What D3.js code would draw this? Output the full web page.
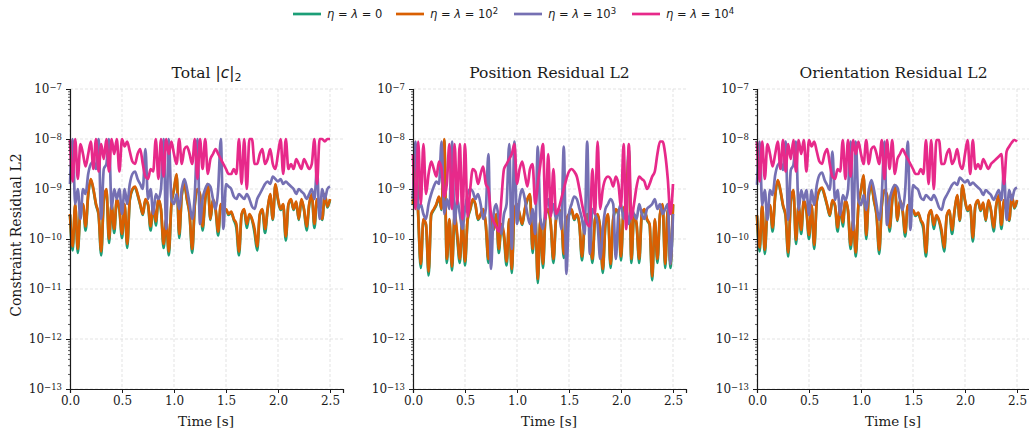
<!DOCTYPE html>
<html>
<head>
<meta charset="utf-8">
<script src="https://cdn.jsdelivr.net/npm/d3@7"></script>
<style>
  body { margin: 0; background: #fff; }
  svg { display: block; font-family: "DejaVu Serif", serif; }
  .math { font-family: "DejaVu Sans", sans-serif; }
</style>
</head>
<body>
<div id="chart"></div>
<script>
// values are log10 of the constraint residual, one sample every dt seconds from t = 0
const dt = 0.025;

const legendExp = ["", "2", "3", "4"];   // "" -> eta = lambda = 0
const colors = ["#1b9e77", "#d95f02", "#7570b3", "#e7298a"];
const panelTitles = ["Total", "Position Residual L2", "Orientation Residual L2"];
const xTicks = [0, 0.5, 1, 1.5, 2, 2.5];
const yTickExps = [-7, -8, -9, -10, -11, -12, -13];

// Total |c|_2
const totalEta0 = [-9.52,-10.23,-9.32,-10.28,-9.42,-9.32,-9.83,-9.12,-8.82,-9.02,
  -9.32,-9.52,-10.33,-9.22,-9.02,-10.08,-9.32,-9.88,-9.22,-9.42,
  -9.98,-9.32,-10.18,-9.22,-9.02,-8.97,-9.12,-9.32,-9.52,-9.22,
  -9.32,-9.83,-9.32,-9.73,-9.22,-9.42,-10.18,-9.62,-10.33,-9.32,
  -9.02,-8.72,-9.98,-9.12,-8.92,-9.22,-9.52,-10.28,-9.32,-9.02,
  -9.12,-9.83,-9.22,-8.92,-9.62,-9.22,-9.42,-9.93,-9.32,-9.42,
  -9.42,-9.52,-9.47,-9.62,-9.78,-10.33,-9.52,-9.42,-9.78,-9.52,
  -9.62,-9.88,-10.23,-9.52,-9.42,-9.88,-9.42,-9.12,-9.62,-8.92,
  -9.22,-9.42,-9.32,-10.03,-9.32,-9.22,-9.42,-9.27,-9.62,-9.22,
  -9.42,-9.83,-9.32,-9.12,-9.78,-9.22,-9.42,-9.62,-9.12,-9.37,
  -9.22];
const totalEta2 = [-9.5,-10.15,-9.3,-10.2,-9.4,-9.3,-9.75,-9.1,-8.8,-9.0,
  -9.3,-9.5,-10.25,-9.2,-9.0,-10.0,-9.3,-9.8,-9.2,-9.4,
  -9.9,-9.3,-10.1,-9.2,-9.0,-8.95,-9.1,-9.3,-9.5,-9.2,
  -9.3,-9.75,-9.3,-9.65,-9.2,-9.4,-10.1,-9.6,-10.25,-9.3,
  -9.0,-8.7,-9.9,-9.1,-8.9,-9.2,-9.5,-10.2,-9.3,-9.0,
  -9.1,-9.75,-9.2,-8.9,-9.6,-9.2,-9.4,-9.85,-9.3,-9.4,
  -9.4,-9.5,-9.45,-9.6,-9.7,-10.25,-9.5,-9.4,-9.7,-9.5,
  -9.6,-9.8,-10.15,-9.5,-9.4,-9.8,-9.4,-9.1,-9.6,-8.9,
  -9.2,-9.4,-9.3,-9.95,-9.3,-9.2,-9.4,-9.25,-9.6,-9.2,
  -9.4,-9.75,-9.3,-9.1,-9.7,-9.2,-9.4,-9.6,-9.1,-9.35,
  -9.2];
const totalEta3 = [-8.9,-8.0,-9.3,-9.0,-9.6,-9.0,-9.1,-8.7,-8.5,-8.45,
  -8.6,-8.0,-9.6,-8.6,-8.5,-8.0,-9.4,-9.0,-9.2,-9.0,
  -9.5,-9.0,-9.3,-8.9,-8.7,-8.65,-8.8,-8.9,-9.0,-8.2,
  -9.2,-9.0,-9.5,-9.1,-9.2,-9.0,-8.0,-9.8,-8.0,-9.2,
  -9.3,-9.1,-9.4,-9.0,-8.8,-9.0,-9.3,-9.6,-9.1,-8.0,
  -9.7,-9.2,-9.0,-8.9,-8.95,-9.2,-9.4,-9.0,-8.0,-9.8,
  -8.9,-8.95,-9.0,-9.15,-9.2,-9.1,-9.15,-9.2,-9.1,-9.2,
  -9.35,-9.4,-9.2,-9.1,-9.0,-8.9,-8.85,-8.9,-8.75,-8.8,
  -8.85,-8.8,-8.9,-8.85,-8.9,-8.95,-9.0,-9.1,-9.0,-9.05,
  -9.1,-9.2,-9.1,-9.0,-9.2,-8.6,-9.6,-9.0,-9.2,-9.0,
  -8.95];
const totalEta4 = [-8.0,-8.85,-8.0,-8.8,-8.1,-8.3,-8.55,-8.3,-8.05,-8.6,
  -8.0,-8.65,-8.1,-8.4,-8.0,-8.65,-8.0,-8.3,-8.0,-8.65,
  -8.0,-8.15,-8.05,-8.25,-8.45,-8.5,-8.3,-8.2,-8.5,-8.75,
  -8.8,-8.6,-8.65,-8.0,-8.8,-8.0,-8.75,-8.0,-8.3,-8.05,
  -8.3,-8.5,-8.0,-8.5,-8.2,-8.15,-8.3,-8.5,-8.0,-8.8,
  -8.0,-8.6,-8.0,-8.7,-8.4,-8.3,-8.2,-8.3,-8.4,-8.5,
  -8.6,-8.7,-8.7,-8.6,-8.7,-8.0,-8.9,-8.0,-9.0,-8.0,
  -8.0,-8.5,-8.5,-8.3,-8.2,-8.5,-8.4,-8.2,-8.5,-8.6,
  -8.3,-8.0,-8.7,-8.0,-8.6,-8.5,-8.6,-8.4,-8.5,-8.6,
  -8.4,-8.5,-8.6,-8.5,-8.0,-8.9,-8.0,-8.0,-8.05,-8.0,
  -8.0];

// Position residual L2
const posEta0 = [-9.32,-8.22,-9.52,-10.58,-9.62,-9.72,-10.73,-9.52,-9.42,-9.32,
  -9.17,-9.42,-8.02,-10.48,-9.62,-10.63,-9.52,-9.98,-10.48,-9.62,
  -10.53,-9.62,-9.42,-9.22,-9.32,-9.62,-9.52,-9.42,-9.72,-10.48,
  -9.62,-9.82,-9.52,-10.28,-9.72,-9.98,-10.53,-9.62,-10.68,-9.42,
  -9.32,-9.52,-9.72,-9.42,-9.22,-9.12,-10.28,-9.52,-10.88,-9.62,
  -10.58,-9.52,-9.42,-9.72,-10.48,-9.62,-9.42,-9.52,-10.38,-9.62,
  -9.52,-9.42,-9.62,-9.52,-9.72,-10.43,-9.72,-9.52,-9.82,-10.48,
  -9.62,-9.52,-9.82,-10.68,-9.72,-9.52,-10.58,-9.62,-9.42,-9.52,
  -10.43,-9.42,-9.32,-8.2,-10.48,-9.52,-9.72,-10.48,-9.52,-9.42,
  -9.62,-9.72,-10.83,-9.62,-10.48,-9.52,-9.32,-10.58,-9.42,-10.58,
  -9.32];
const posEta2 = [-9.3,-8.2,-9.5,-10.5,-9.6,-9.7,-10.65,-9.5,-9.4,-9.3,
  -9.15,-9.4,-8.0,-10.4,-9.6,-10.55,-9.5,-9.9,-10.4,-9.6,
  -10.45,-9.6,-9.4,-9.2,-9.3,-9.6,-9.5,-9.4,-9.7,-10.4,
  -9.6,-9.8,-9.5,-10.2,-9.7,-9.9,-10.45,-9.6,-10.6,-9.4,
  -9.3,-9.5,-9.7,-9.4,-9.2,-9.1,-10.2,-9.5,-10.8,-9.6,
  -10.5,-9.5,-9.4,-9.7,-10.4,-9.6,-9.4,-9.5,-10.3,-9.6,
  -9.5,-9.4,-9.6,-9.5,-9.7,-10.35,-9.7,-9.5,-9.8,-10.4,
  -9.6,-9.5,-9.8,-10.6,-9.7,-9.5,-10.5,-9.6,-9.4,-9.5,
  -10.35,-9.4,-9.3,-8.3,-10.4,-9.5,-9.7,-10.4,-9.5,-9.4,
  -9.6,-9.7,-10.75,-9.6,-10.4,-9.5,-9.3,-10.5,-9.4,-10.5,
  -9.3];
const posEta3 = [-9.2,-8.05,-9.4,-9.3,-9.5,-9.6,-9.3,-9.1,-8.95,-8.85,
  -8.9,-8.05,-9.5,-9.2,-9.4,-8.05,-9.7,-9.2,-9.5,-9.8,
  -9.4,-9.1,-9.0,-9.05,-9.2,-9.1,-9.3,-9.6,-9.4,-8.3,
  -10.6,-9.5,-9.3,-9.6,-9.9,-9.5,-9.3,-8.1,-10.2,-8.05,
  -9.7,-9.2,-9.0,-9.2,-9.5,-9.7,-9.4,-9.9,-8.15,-9.6,
  -9.8,-9.4,-9.2,-9.5,-9.3,-9.6,-9.4,-9.8,-8.15,-10.7,
  -9.5,-9.3,-9.15,-9.2,-9.4,-9.6,-9.9,-8.05,-10.3,-9.4,
  -9.5,-9.7,-10.4,-9.8,-9.4,-9.3,-9.2,-9.3,-10.4,-9.5,
  -9.3,-9.6,-9.4,-9.7,-9.4,-9.5,-9.6,-9.3,-9.5,-9.6,
  -9.4,-9.35,-9.3,-9.2,-9.4,-9.3,-9.5,-9.4,-9.3,-10.5,
  -9.5];
const posEta4 = [-8.3,-9.4,-8.05,-9.3,-8.1,-9.1,-8.7,-8.45,-8.6,-8.75,
  -8.45,-8.6,-9.15,-8.9,-8.1,-9.4,-8.1,-9.3,-8.1,-9.6,
  -8.1,-9.55,-9.0,-8.6,-8.65,-8.9,-8.7,-8.55,-8.9,-9.0,
  -9.5,-9.65,-9.75,-9.85,-9.2,-8.6,-8.5,-8.4,-8.3,-8.1,
  -8.9,-8.6,-8.45,-8.7,-8.95,-8.6,-8.5,-9.3,-8.9,-8.5,
  -8.1,-9.6,-8.3,-9.55,-8.6,-9.5,-9.4,-9.2,-9.0,-8.8,
  -8.65,-8.6,-8.65,-8.75,-9.0,-9.3,-9.55,-9.7,-9.75,-8.6,
  -9.5,-8.05,-9.4,-9.0,-8.8,-8.75,-8.8,-8.95,-8.75,-8.9,
  -9.35,-8.1,-9.8,-8.1,-9.6,-9.3,-8.95,-8.75,-8.8,-8.85,
  -9.0,-8.9,-8.75,-8.65,-8.3,-8.05,-8.05,-8.3,-8.8,-9.5,
  -8.9];

// Orientation residual L2
const oriEta0 = [-9.54,-10.25,-9.34,-10.3,-9.44,-9.34,-9.85,-9.14,-8.84,-9.04,
  -9.34,-9.54,-10.35,-9.24,-9.04,-10.1,-9.34,-9.9,-9.24,-9.44,
  -10.0,-9.34,-10.2,-9.24,-9.04,-8.99,-9.14,-9.34,-9.54,-9.24,
  -9.34,-9.85,-9.34,-9.75,-9.24,-9.44,-10.2,-9.64,-10.35,-9.34,
  -9.04,-8.74,-10.0,-9.14,-8.94,-9.24,-9.54,-10.3,-9.34,-9.04,
  -9.14,-9.85,-9.24,-8.94,-9.64,-9.24,-9.44,-9.95,-9.34,-9.44,
  -9.44,-9.54,-9.49,-9.64,-9.8,-10.35,-9.54,-9.44,-9.8,-9.54,
  -9.64,-9.9,-10.25,-9.54,-9.44,-9.9,-9.44,-9.14,-9.64,-8.94,
  -9.24,-9.44,-9.34,-10.05,-9.34,-9.24,-9.44,-9.29,-9.64,-9.24,
  -9.44,-9.85,-9.34,-9.14,-9.8,-9.24,-9.44,-9.64,-9.14,-9.39,
  -9.24];
const oriEta2 = [-9.52,-10.17,-9.32,-10.22,-9.42,-9.32,-9.77,-9.12,-8.82,-9.02,
  -9.32,-9.52,-10.27,-9.22,-9.02,-10.02,-9.32,-9.82,-9.22,-9.42,
  -9.92,-9.32,-10.12,-9.22,-9.02,-8.97,-9.12,-9.32,-9.52,-9.22,
  -9.32,-9.77,-9.32,-9.67,-9.22,-9.42,-10.12,-9.62,-10.27,-9.32,
  -9.02,-8.72,-9.92,-9.12,-8.92,-9.22,-9.52,-10.22,-9.32,-9.02,
  -9.12,-9.77,-9.22,-8.92,-9.62,-9.22,-9.42,-9.87,-9.32,-9.42,
  -9.42,-9.52,-9.47,-9.62,-9.72,-10.27,-9.52,-9.42,-9.72,-9.52,
  -9.62,-9.82,-10.17,-9.52,-9.42,-9.82,-9.42,-9.12,-9.62,-8.92,
  -9.22,-9.42,-9.32,-9.97,-9.32,-9.22,-9.42,-9.27,-9.62,-9.22,
  -9.42,-9.77,-9.32,-9.12,-9.72,-9.22,-9.42,-9.62,-9.12,-9.37,
  -9.22];
const oriEta3 = [-8.92,-8.05,-9.32,-9.02,-9.62,-9.02,-9.12,-8.72,-8.52,-8.47,
  -8.62,-8.05,-9.62,-8.62,-8.52,-8.05,-9.42,-9.02,-9.22,-9.02,
  -9.52,-9.02,-9.32,-8.92,-8.72,-8.67,-8.82,-8.92,-9.02,-8.25,
  -9.22,-9.02,-9.52,-9.12,-9.22,-9.02,-8.05,-9.82,-8.05,-9.22,
  -9.32,-9.12,-9.42,-9.02,-8.82,-9.02,-9.32,-9.62,-9.12,-8.05,
  -9.72,-9.22,-9.02,-8.92,-8.97,-9.22,-9.42,-9.02,-8.05,-9.82,
  -8.92,-8.97,-9.02,-9.17,-9.22,-9.12,-9.17,-9.22,-9.12,-9.22,
  -9.37,-9.42,-9.22,-9.12,-9.02,-8.92,-8.87,-8.92,-8.77,-8.82,
  -8.87,-8.82,-8.92,-8.87,-8.92,-8.97,-9.02,-9.12,-9.02,-9.07,
  -9.12,-9.22,-9.12,-9.02,-9.22,-8.65,-9.62,-9.02,-9.22,-9.02,
  -8.97];
const oriEta4 = [-8.05,-8.85,-8.05,-8.8,-8.1,-8.3,-8.55,-8.3,-8.05,-8.6,
  -8.02,-8.65,-8.1,-8.4,-8.02,-8.65,-8.02,-8.3,-8.02,-8.65,
  -8.02,-8.15,-8.05,-8.25,-8.45,-8.5,-8.3,-8.2,-8.5,-8.75,
  -8.8,-8.6,-8.65,-8.02,-8.8,-8.02,-8.75,-8.02,-8.3,-8.05,
  -8.3,-8.5,-8.02,-8.5,-8.2,-8.15,-8.3,-8.5,-8.02,-8.8,
  -8.02,-8.6,-8.02,-8.7,-8.4,-8.3,-8.2,-8.3,-8.4,-8.5,
  -8.6,-8.7,-8.7,-8.6,-8.7,-8.02,-8.9,-8.02,-9.0,-8.02,
  -8.02,-8.5,-8.5,-8.3,-8.2,-8.5,-8.4,-8.2,-8.5,-8.6,
  -8.3,-8.02,-8.7,-8.02,-8.6,-8.5,-8.6,-8.4,-8.5,-8.6,
  -8.5,-8.45,-8.4,-8.35,-8.3,-8.9,-8.25,-8.15,-8.07,-8.02,
  -8.05];

const panelSeries = [
  [totalEta0, totalEta2, totalEta3, totalEta4],
  [posEta0, posEta2, posEta3, posEta4],
  [oriEta0, oriEta2, oriEta3, oriEta4]
];

const W = 1029, H = 431;
const panelLeft = [70, 413, 757];
const panelWidth = 273;
const plotTop = 89, plotBottom = 389;
const ink = "#1a1a1a";

const svg = d3.select("#chart").append("svg")
  .attr("width", W)
  .attr("height", H);

const y = d3.scaleLog().domain([1e-13, 1e-7]).range([plotBottom, plotTop]);
const minorTicks = [];
for (let e = -13; e < -7; e++) for (let m = 2; m <= 9; m++) minorTicks.push(m * Math.pow(10, e));

panelSeries.forEach((series, p) => {
  const left = panelLeft[p];
  const x = d3.scaleLinear().domain([0, 2.625]).range([left, left + panelWidth]);
  const g = svg.append("g");

  // grid
  g.selectAll(".vgrid").data(xTicks).join("line")
    .attr("x1", d => x(d)).attr("x2", d => x(d))
    .attr("y1", plotTop).attr("y2", plotBottom)
    .attr("stroke", "#dcdcdc").attr("stroke-width", 0.8).attr("stroke-dasharray", "3,2");
  g.selectAll(".hgrid").data(yTickExps).join("line")
    .attr("x1", left).attr("x2", left + panelWidth)
    .attr("y1", d => y(Math.pow(10, d))).attr("y2", d => y(Math.pow(10, d)))
    .attr("stroke", "#dcdcdc").attr("stroke-width", 0.8).attr("stroke-dasharray", "3,2");

  // lines
  const line = d3.line()
    .x((d, i) => x(i * dt))
    .y(d => y(Math.pow(10, d)))
    .curve(d3.curveMonotoneX);
  series.forEach((s, k) => {
    g.append("path")
      .datum(s)
      .attr("fill", "none")
      .attr("stroke", colors[k])
      .attr("stroke-width", 2.7)
      .attr("stroke-linejoin", "round")
      .attr("d", line);
  });

  // axes
  const xAxis = g.append("g")
    .attr("transform", `translate(0,${plotBottom})`)
    .call(d3.axisBottom(x).tickValues(xTicks).tickFormat(d3.format(".1f")).tickSize(4).tickPadding(3));
  xAxis.select(".domain").attr("stroke", ink).attr("stroke-width", 1.2);
  xAxis.selectAll(".tick line").attr("stroke", ink);
  xAxis.selectAll("text").attr("font-family", "DejaVu Serif").attr("font-size", 12).attr("fill", ink);

  const yMinor = g.append("g")
    .attr("transform", `translate(${left},0)`)
    .call(d3.axisLeft(y).tickValues(minorTicks).tickFormat("").tickSize(2));
  yMinor.select(".domain").remove();
  yMinor.selectAll(".tick line").attr("stroke", ink).attr("stroke-width", 0.7);

  const yAxis = g.append("g")
    .attr("transform", `translate(${left},0)`)
    .call(d3.axisLeft(y).tickValues(yTickExps.map(e => Math.pow(10, e))).tickSize(4).tickPadding(4));
  yAxis.select(".domain").attr("stroke", ink).attr("stroke-width", 1.2);
  yAxis.selectAll(".tick line").attr("stroke", ink);
  yAxis.selectAll(".tick text")
    .attr("font-family", "DejaVu Serif").attr("font-size", 12).attr("fill", ink)
    .text(null)
    .each(function (d) {
      const t = d3.select(this);
      t.append("tspan").text("10");
      t.append("tspan").attr("dy", "-0.45em").attr("font-size", 8.5).text("\u2212" + Math.round(-Math.log10(d)));
    });

  // title
  const title = svg.append("text")
    .attr("x", left + panelWidth / 2)
    .attr("y", 78)
    .attr("text-anchor", "middle")
    .attr("font-size", 15.5)
    .attr("fill", ink);
  if (p === 0) {
    title.append("tspan").text(panelTitles[p] + " ");
    title.append("tspan").attr("class", "math").text("|");
    title.append("tspan").attr("class", "math").attr("font-style", "italic").text("c");
    title.append("tspan").attr("class", "math").text("|");
    title.append("tspan").attr("class", "math").attr("font-size", 11).attr("dy", "0.3em").text("2");
  } else {
    title.text(panelTitles[p]);
  }

  // x label
  svg.append("text")
    .attr("x", left + 2.5 / 2.625 * panelWidth / 2 + 6)
    .attr("y", 426)
    .attr("text-anchor", "middle")
    .attr("font-size", 13.5)
    .attr("fill", ink)
    .text("Time [s]");
});

// y label
svg.append("text")
  .attr("transform", "translate(21,235) rotate(-90)")
  .attr("text-anchor", "middle")
  .attr("font-size", 14)
  .attr("fill", ink)
  .text("Constraint Residual L2");

// legend
const legendX = [293, 396, 514, 632];
const legend = svg.append("g").attr("class", "math");
legendExp.forEach((e, k) => {
  legend.append("line")
    .attr("x1", legendX[k]).attr("x2", legendX[k] + 28)
    .attr("y1", 14).attr("y2", 14)
    .attr("stroke", colors[k]).attr("stroke-width", 2.7);
  const t = legend.append("text")
    .attr("x", legendX[k] + 34)
    .attr("y", 18)
    .attr("font-size", 11.5)
    .attr("fill", ink);
  t.append("tspan").attr("font-style", "italic").text("\u03b7");
  t.append("tspan").text(" = ");
  t.append("tspan").attr("font-style", "italic").text("\u03bb");
  t.append("tspan").text(e === "" ? " = 0" : " = 10");
  if (e !== "") t.append("tspan").attr("dy", "-0.45em").attr("font-size", 8.5).text(e);
});
</script>
</body>
</html>
